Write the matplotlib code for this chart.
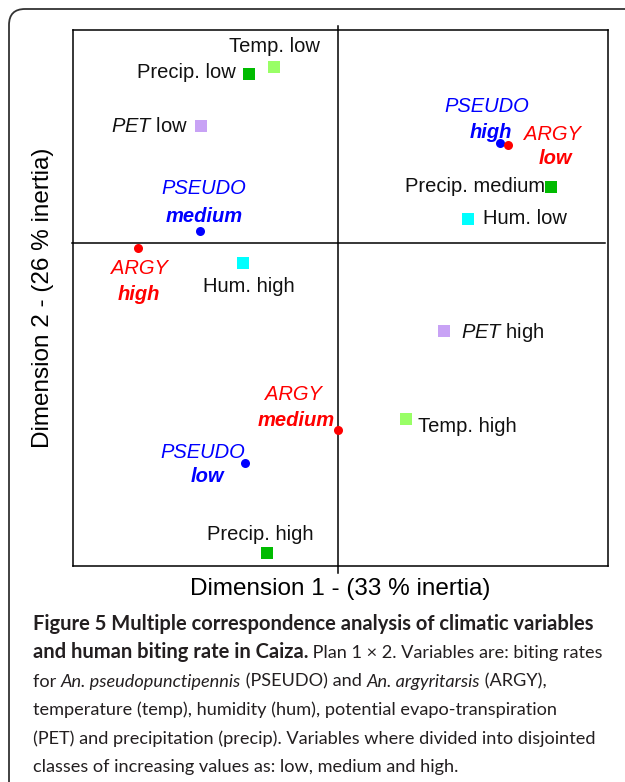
import matplotlib
matplotlib.use("Agg")
import matplotlib.pyplot as plt
from matplotlib.patches import FancyBboxPatch
from matplotlib.transforms import IdentityTransform

plt.rcParams['font.family'] = ['Liberation Sans', 'DejaVu Sans']
plt.rcParams['mathtext.fontset'] = 'custom'
plt.rcParams['mathtext.rm'] = 'Liberation Sans'
plt.rcParams['mathtext.it'] = 'Liberation Sans:italic'

# climatic variable classes (squares)
var_names = ["Temp. low", "Temp. high", "Precip. low", "Precip. medium", "Precip. high",
             "$\\it{PET}$ low", "$\\it{PET}$ high", "Hum. low", "Hum. high"]
var_dim1 = [-0.32, 0.34, -0.445, 1.065, -0.355, -0.685, 0.53, 0.65, -0.475]
var_dim2 = [0.88, -0.88, 0.845, 0.28, -1.55, 0.585, -0.44, 0.12, -0.10]
var_group = ["temp", "temp", "precip", "precip", "precip", "pet", "pet", "hum", "hum"]

# biting rate classes (dots)
bite_species = ["PSEUDO", "PSEUDO", "PSEUDO", "ARGY", "ARGY", "ARGY"]
bite_class = ["low", "medium", "high", "low", "medium", "high"]
bite_dim1 = [-0.465, -0.69, 0.81, 0.85, 0.0, -1.0]
bite_dim2 = [-1.10, 0.06, 0.50, 0.49, -0.935, -0.025]

group_colors = {"temp": "#99ff66", "precip": "#00bb00", "pet": "#c8a2f5", "hum": "#00ffff"}
species_colors = {"PSEUDO": "#0000ff", "ARGY": "#ff0000"}

# label placement (pixel offsets from the point)
var_offsets = [(0, 21, "center"), (12, -8, "left"), (-13, 1, "right"), (-6, 1, "right"),
               (-7, 18, "center"), (-13, 0, "right"), (17, -2, "left"), (15, 0, "left"),
               (6, -24, "center")]
bite_offsets = [(-42, 11, -38, -14), (4, 42, 4, 15), (-13, 37, -9, 10),
                (44, 11, 47, -14), (-45, 36, -42, 10), (1, -21, 1, -46)]

W, H = 625, 782
fig = plt.figure(figsize=(W / 100, H / 100), dpi=100)
ax = fig.add_axes([73 / W, 1 - 566 / H, 535 / W, 536 / H])
ax.set_xlim(-1.325, 1.35)
ax.set_ylim(-1.615, 1.065)
ax.set_xticks([])
ax.set_yticks([])
for s in ax.spines.values():
    s.set_linewidth(1.1)

ax.axvline(0, ymin=-0.013, ymax=1.008, color='black', lw=1.1, clip_on=False)
ax.axhline(0, xmin=-0.002, xmax=0.995, color='black', lw=1.1, clip_on=False)

for name, x, y, g, (dx, dy, ha) in zip(var_names, var_dim1, var_dim2, var_group, var_offsets):
    ax.plot(x, y, marker='s', ms=8.6, mew=0, color=group_colors[g], ls='none')
    ax.annotate(name, (x, y), xytext=(dx, dy), textcoords='offset pixels',
                ha=ha, va='center', fontsize=14.5, color='#111111')

for sp, cl, x, y, (dx1, dy1, dx2, dy2) in zip(bite_species, bite_class, bite_dim1, bite_dim2, bite_offsets):
    c = species_colors[sp]
    ax.plot(x, y, marker='o', ms=6.5, mew=0, color=c, ls='none', zorder=5)
    ax.annotate(sp, (x, y), xytext=(dx1, dy1), textcoords='offset pixels',
                ha='center', va='center', fontsize=14.5, style='italic', color=c)
    ax.annotate(cl, (x, y), xytext=(dx2, dy2), textcoords='offset pixels',
                ha='center', va='center', fontsize=14.5, style='italic', weight='bold', color=c)

ax.set_xlabel("Dimension 1 - (33 % inertia)", fontsize=17.5, labelpad=9)
ax.set_ylabel("Dimension 2 - (26 % inertia)", fontsize=17.5, labelpad=14)

# outer rounded frame
frame = FancyBboxPatch((9, -60), 700, H - 9 + 60, boxstyle="round,pad=0,rounding_size=16",
                       transform=IdentityTransform(), fill=False, ec='#333333', lw=1.3)
fig.patches.append(frame)

# caption, drawn run by run so bold / italic parts can be mixed
cap_lines = [
    [("Figure 5 Multiple correspondence analysis of climatic variables", "bold", "normal")],
    [("and human biting rate in Caiza.", "bold", "normal"),
     (" Plan 1 \u00d7 2. Variables are: biting rates", "normal", "normal")],
    [("for ", "normal", "normal"), ("An. pseudopunctipennis", "normal", "italic"),
     (" (PSEUDO) and ", "normal", "normal"), ("An. argyritarsis", "normal", "italic"),
     (" (ARGY),", "normal", "normal")],
    [("temperature (temp), humidity (hum), potential evapo-transpiration", "normal", "normal")],
    [("(PET) and precipitation (precip). Variables where divided into disjointed", "normal", "normal")],
    [("classes of increasing values as: low, medium and high.", "normal", "normal")],
]
cap_font = ['Lato', 'DejaVu Sans']
cap_size = {"bold": 14.5, "normal": 13.05}
renderer = fig.canvas.get_renderer()


def run_width(text, weight, style):
    kw = dict(family=cap_font, fontsize=cap_size[weight], weight=weight, style=style)
    t = fig.text(0, 0, text + "|", **kw)
    bar = fig.text(0, 0, "|", **kw)
    w = t.get_window_extent(renderer).width - bar.get_window_extent(renderer).width
    t.remove()
    bar.remove()
    return w


for i, runs in enumerate(cap_lines):
    x = 33
    y = H - (630 + i * 28.4)
    for text, weight, style in runs:
        fig.text(x, y, text, transform=IdentityTransform(), family=cap_font, fontsize=cap_size[weight],
                 weight=weight, style=style, va='baseline', ha='left', color='#231f20')
        x += run_width(text, weight, style)

fig.savefig("out.png", dpi=100)
